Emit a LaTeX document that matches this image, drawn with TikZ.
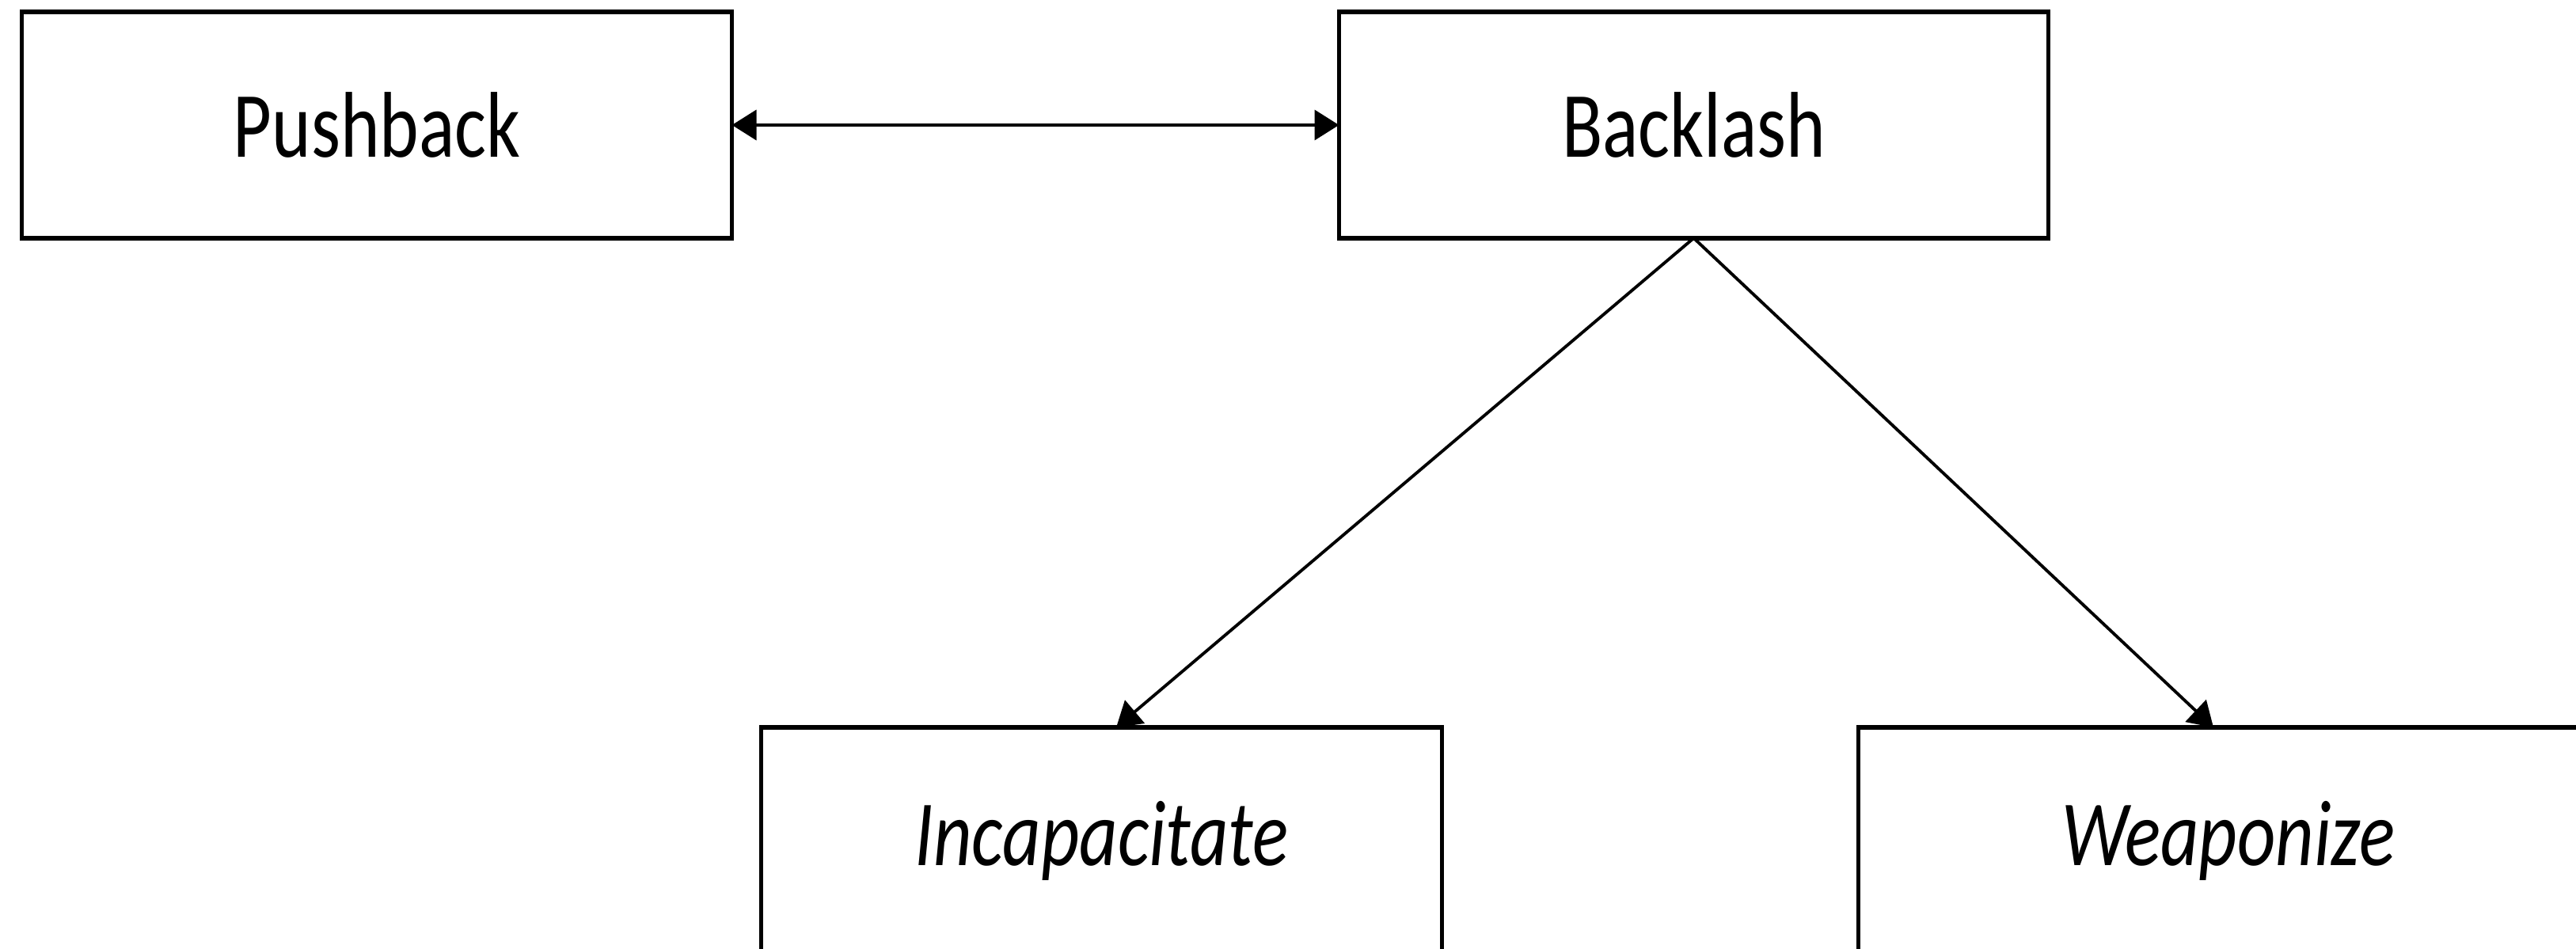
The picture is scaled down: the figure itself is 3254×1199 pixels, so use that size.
\documentclass[tikz,border=0pt]{standalone}
\usepackage{fontspec}
\setmainfont{Carlito}[FakeStretch=0.8]
\usetikzlibrary{arrows.meta}
\begin{document}
\begin{tikzpicture}[x=0.005cm,y=-0.005cm,inner sep=0pt,outer sep=0pt,line width=0.6pt,
>={Triangle[length=4.4pt,width=5.4pt]},
catblock/.style={draw,rectangle,minimum height=1.43cm,line width=0.8pt,font=\fontsize{16.8}{20}\selectfont}]
\clip (0,0) rectangle (3254,1199);
\draw (476,158) node[catblock,minimum width=4.49cm] (push) {Pushback};
\draw (2139.5,158) node[catblock,minimum width=4.485cm] (back) {Backlash};
\draw (1391.5,1062) node[catblock,minimum width=4.305cm] (inca) {\itshape Incapacitate};
\draw (2815,1062) node[catblock,minimum width=4.68cm] (weap) {\itshape Weaponize};
\draw[<->,line width=0.55pt] (push.east) -- (back.west);
\draw[->,line width=0.55pt] (back.south) -- ([xshift=0.0925cm]inca.north);
\draw[->,line width=0.55pt] (back.south) -- ([xshift=-0.095cm]weap.north);
\end{tikzpicture}
\end{document}
